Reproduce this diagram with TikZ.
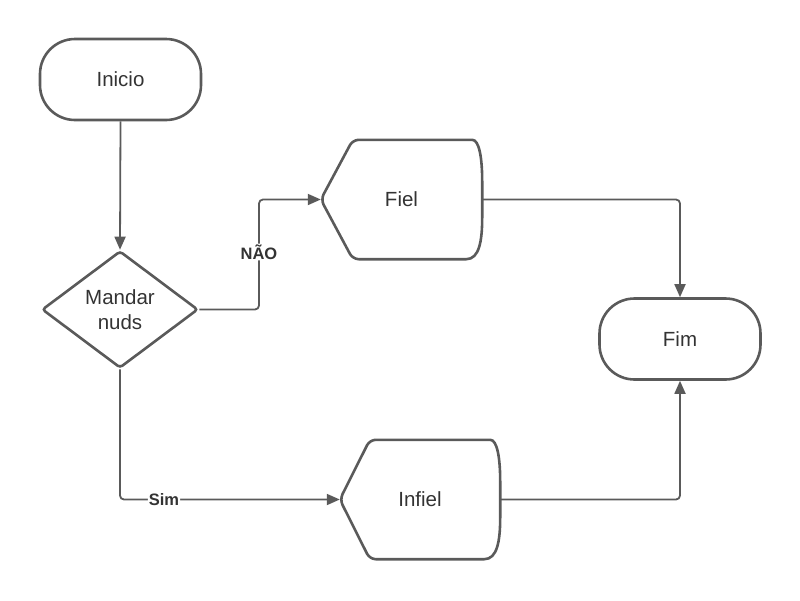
\documentclass[tikz,border=0pt]{standalone}
\usepackage{fontspec}
\setmainfont{Liberation Sans}
\usetikzlibrary{shapes.geometric,arrows.meta,calc}
\definecolor{strk}{RGB}{90,90,90}
\definecolor{txt}{RGB}{51,51,51}
\begin{document}
\begin{tikzpicture}[x=1pt,y=-1pt,
  mainfont/.style={font=\fontsize{20.5}{25}\selectfont, text=txt},
  terminal/.style={mainfont, rectangle, draw=strk, line width=2.6pt, rounded corners=35pt, minimum width=161pt, minimum height=81pt, inner sep=0pt},
  decision/.style={mainfont, diamond, draw=strk, line width=2.6pt, rounded corners=3pt, minimum width=156pt, minimum height=117pt, aspect=1.333, inner sep=0pt, align=center},
  dispbox/.style={mainfont, rectangle, minimum height=119pt, inner sep=0pt},
  outline/.style={draw=strk, line width=2.6pt, rounded corners=6pt},
  conn/.style={draw=strk, line width=1.8pt, rounded corners=4pt, -{Triangle[length=13pt,width=11pt]}},
  lab/.style={font=\bfseries\fontsize{16.5}{18}\selectfont, text=txt, fill=white, inner sep=1pt}
]
\useasboundingbox (0,0) rectangle (800,600);

\node[terminal] (ini) at (120.5,79.5) {Inicio};
\node[decision] (dec) at (120,309.5) {Mandar\\nuds};
\node[dispbox, minimum width=161pt] (fiel) at (401.5,199.5) {Fiel};
\node[dispbox, minimum width=160pt] (inf) at (420,499.5) {Infiel};
\node[terminal] (fim) at (680,339) {Fim};

\draw[outline] (fiel.west) -- ([xshift=32pt]fiel.north west) -- ([xshift=-16pt]fiel.north east)
  [sharp corners] .. controls ([xshift=-3pt]fiel.north east) and ([yshift=-18pt]fiel.north east) .. ([yshift=-42pt]fiel.north east)
  -- ([yshift=42pt]fiel.south east)
  .. controls ([yshift=18pt]fiel.south east) and ([xshift=-3pt]fiel.south east) .. ([xshift=-16pt]fiel.south east)
  [rounded corners=6pt] -- ([xshift=32pt]fiel.south west) -- cycle;
\draw[outline] (inf.west) -- ([xshift=30pt]inf.north west) -- ([xshift=-16pt]inf.north east)
  [sharp corners] .. controls ([xshift=-3pt]inf.north east) and ([yshift=-18pt]inf.north east) .. ([yshift=-42pt]inf.north east)
  -- ([yshift=42pt]inf.south east)
  .. controls ([yshift=18pt]inf.south east) and ([xshift=-3pt]inf.south east) .. ([xshift=-16pt]inf.south east)
  [rounded corners=6pt] -- ([xshift=30pt]inf.south west) -- cycle;

\coordinate (kn) at (259,252);

\draw[conn] (ini.south) -- (dec.north);
\draw[conn] (dec.east) -| (kn) node[lab]{NÃO} |- (fiel.west);
\draw[conn] (dec.south) |- node[lab, pos=0.6]{Sim} (inf.west);
\draw[conn] (fiel.east) -| (fim.north);
\draw[conn] (inf.east) -| (fim.south);
\end{tikzpicture}
\end{document}
